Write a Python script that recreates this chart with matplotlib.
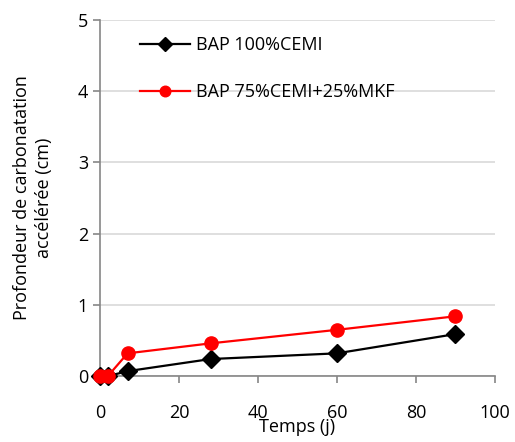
import matplotlib
matplotlib.use("Agg")
import matplotlib.pyplot as plt

# temps (jours) et profondeur de carbonatation (cm)
temps = [0, 2, 7, 28, 60, 90]
cemi_100 = [0, 0, 0.07, 0.24, 0.32, 0.59]
cemi_75_mkf_25 = [0, 0, 0.32, 0.46, 0.65, 0.84]
labels = ["BAP 100%CEMI", "BAP 75%CEMI+25%MKF"]

plt.rcParams['font.family'] = ['Open Sans', 'DejaVu Sans']
plt.rcParams['font.size'] = 13

fig = plt.figure(figsize=(5.15, 4.42), dpi=100)
ax = fig.add_axes([0.194, 0.149, 0.767, 0.806])

ax.plot(temps, cemi_100, color='black', lw=1.6, marker='D', ms=9,
        label=labels[0], clip_on=False, zorder=3)
ax.plot(temps, cemi_75_mkf_25, color='red', lw=1.6, marker='o', ms=9.5,
        label=labels[1], clip_on=False, zorder=4)

ax.set_xlim(0, 100)
ax.set_ylim(0, 5)
ax.set_xticks(range(0, 101, 20))
ax.set_yticks(range(0, 6))
ax.yaxis.grid(True, color='#d9d9d9', lw=1.2)
ax.set_axisbelow(True)

for s in ['top', 'right']:
    ax.spines[s].set_visible(False)
for s in ['left', 'bottom']:
    ax.spines[s].set_color('#868686')
    ax.spines[s].set_linewidth(1.2)
ax.tick_params(axis='both', colors='#868686', labelcolor='black', length=5, width=1.2)
ax.tick_params(axis='x', pad=15)

ax.set_xlabel("Temps (j)", labelpad=-3)
ax.set_ylabel("Profondeur de carbonatation\naccélérée (cm)", labelpad=18, linespacing=1.3)

leg = ax.legend(loc='upper left', bbox_to_anchor=(0.06, 1.0), frameon=False,
                handlelength=2.8, labelspacing=1.6, handletextpad=0.3,
                markerscale=0.8)

fig.savefig("out.png", dpi=100)
